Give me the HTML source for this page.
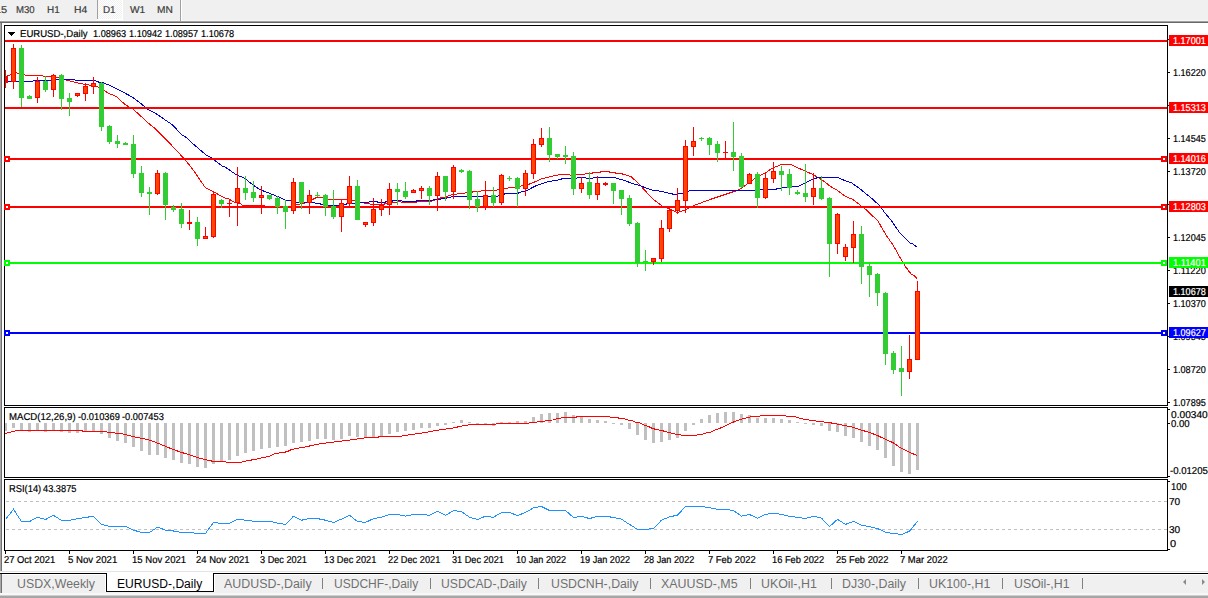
<!DOCTYPE html><html><head><meta charset="utf-8"><title>EURUSD-,Daily</title><style>
html,body{margin:0;padding:0;}
body{width:1208px;height:598px;overflow:hidden;background:#fff;position:relative;font-family:"Liberation Sans",sans-serif;}
.abs{position:absolute;}
.t{position:absolute;white-space:pre;transform-origin:0 0;}
svg{position:absolute;left:0;top:0;}
</style></head><body>
<div class="abs" style="left:0px;top:0px;width:1208px;height:20px;background:#f0f0f0"></div>
<div class="abs" style="left:0px;top:20px;width:1208px;height:1px;background:#f6f6f6"></div>
<div class="abs" style="left:0px;top:21px;width:1208px;height:1px;background:#a0a0a0"></div>
<div class="abs" style="left:0px;top:22px;width:1208px;height:1px;background:#696969"></div>
<div class="abs" style="left:98px;top:0;width:24px;height:19px;background-color:#f0f0f0;background-image:conic-gradient(#fff 25%,#f0f0f0 0 50%,#fff 0 75%,#f0f0f0 0);background-size:2px 2px"></div>
<div class="abs" style="left:97px;top:0px;width:1px;height:19px;background:#a0a0a0"></div>
<div class="abs" style="left:122px;top:0px;width:1px;height:20px;background:#fff"></div>
<div class="abs" style="left:97px;top:19px;width:26px;height:1px;background:#fff"></div>
<div class="abs" style="left:180px;top:0px;width:1px;height:21px;background:#a0a0a0"></div>
<div class="abs" style="left:181px;top:0px;width:1px;height:21px;background:#ffffff"></div>
<div class="t" style="left:0.54px;top:6.00px;font-size:10px;line-height:10px;color:#3c3c3c;text-rendering:geometricPrecision;-webkit-text-stroke:0.2px;transform:scaleX(1.1003)">5</div>
<div class="t" style="left:15.92px;top:6.00px;font-size:10px;line-height:10px;color:#3c3c3c;text-rendering:geometricPrecision;-webkit-text-stroke:0.2px;transform:scaleX(0.9586)">M30</div>
<div class="t" style="left:46.90px;top:6.00px;font-size:10px;line-height:10px;color:#3c3c3c;text-rendering:geometricPrecision;-webkit-text-stroke:0.2px;transform:scaleX(0.9926)">H1</div>
<div class="t" style="left:74.38px;top:6.00px;font-size:10px;line-height:10px;color:#3c3c3c;text-rendering:geometricPrecision;-webkit-text-stroke:0.2px;transform:scaleX(1.0358)">H4</div>
<div class="t" style="left:103.01px;top:6.00px;font-size:10px;line-height:10px;color:#3c3c3c;text-rendering:geometricPrecision;-webkit-text-stroke:0.2px;transform:scaleX(0.9840)">D1</div>
<div class="t" style="left:130.39px;top:6.00px;font-size:10px;line-height:10px;color:#3c3c3c;text-rendering:geometricPrecision;-webkit-text-stroke:0.2px;transform:scaleX(1.0143)">W1</div>
<div class="t" style="left:157.09px;top:6.00px;font-size:10px;line-height:10px;color:#3c3c3c;text-rendering:geometricPrecision;-webkit-text-stroke:0.2px;transform:scaleX(1.0172)">MN</div>
<div class="abs" style="left:0px;top:12px;width:1px;height:1px;background:#8a8a8a"></div>
<div class="abs" style="left:0px;top:23px;width:1px;height:548px;background:#a8a8a8"></div>
<div class="abs" style="left:1px;top:23px;width:1px;height:548px;background:#707070"></div>
<div class="abs" style="left:0px;top:571px;width:1208px;height:1px;background:#e3e3e3"></div>
<div class="abs" style="left:0px;top:573px;width:1208px;height:1px;background:#000"></div>
<div class="abs" style="left:0px;top:575px;width:1208px;height:18px;background:#f0f0f0"></div>
<div class="abs" style="left:0px;top:593px;width:1208px;height:2px;background:#f8f8f8"></div>
<div class="abs" style="left:0px;top:595px;width:1208px;height:1px;background:#cfcfcf"></div>
<div class="abs" style="left:0px;top:596px;width:1208px;height:2px;background:#a6a6a6"></div>
<div class="abs" style="left:0px;top:574px;width:1px;height:19px;background:#a8a8a8"></div>
<div class="abs" style="left:1px;top:574px;width:1px;height:19px;background:#707070"></div>
<div class="abs" style="left:105px;top:574px;width:110px;height:1px;background:#fff"></div>
<div class="abs" style="left:107px;top:573px;width:106px;height:18px;background:#fff"></div>
<div class="abs" style="left:105px;top:575px;width:1px;height:17px;background:#fff"></div>
<div class="abs" style="left:214px;top:575px;width:1px;height:17px;background:#fff"></div>
<div class="abs" style="left:106px;top:573px;width:1px;height:19px;background:#000"></div>
<div class="abs" style="left:213px;top:573px;width:1px;height:19px;background:#000"></div>
<div class="abs" style="left:106px;top:591px;width:108px;height:1px;background:#000"></div>
<div class="t" style="left:17.31px;top:578.04px;font-size:12px;line-height:12px;color:#707070;transform:scaleX(1.0287)">USDX,Weekly</div>
<div class="t" style="left:117.03px;top:578.04px;font-size:12px;line-height:12px;color:#000;transform:scaleX(1.0066)">EURUSD-,Daily</div>
<div class="t" style="left:224.01px;top:578.04px;font-size:12px;line-height:12px;color:#707070;transform:scaleX(1.0344)">AUDUSD-,Daily</div>
<div class="t" style="left:334.24px;top:578.04px;font-size:12px;line-height:12px;color:#707070;transform:scaleX(1.0027)">USDCHF-,Daily</div>
<div class="t" style="left:441.23px;top:578.04px;font-size:12px;line-height:12px;color:#707070;transform:scaleX(1.0139)">USDCAD-,Daily</div>
<div class="t" style="left:550.52px;top:578.04px;font-size:12px;line-height:12px;color:#707070;transform:scaleX(1.0250)">USDCNH-,Daily</div>
<div class="t" style="left:661.41px;top:578.04px;font-size:12px;line-height:12px;color:#707070;transform:scaleX(1.0348)">XAUUSD-,M5</div>
<div class="t" style="left:761.41px;top:578.04px;font-size:12px;line-height:12px;color:#707070;transform:scaleX(1.0329)">UKOil-,H1</div>
<div class="t" style="left:842.01px;top:578.04px;font-size:12px;line-height:12px;color:#707070;transform:scaleX(1.0317)">DJ30-,Daily</div>
<div class="t" style="left:929.21px;top:578.04px;font-size:12px;line-height:12px;color:#707070;transform:scaleX(1.0324)">UK100-,H1</div>
<div class="t" style="left:1014.31px;top:578.04px;font-size:12px;line-height:12px;color:#707070;transform:scaleX(1.0291)">USOil-,H1</div>
<div class="abs" style="left:322px;top:578px;width:1px;height:11px;background:#808080"></div>
<div class="abs" style="left:430px;top:578px;width:1px;height:11px;background:#808080"></div>
<div class="abs" style="left:538px;top:578px;width:1px;height:11px;background:#808080"></div>
<div class="abs" style="left:650px;top:578px;width:1px;height:11px;background:#808080"></div>
<div class="abs" style="left:750px;top:578px;width:1px;height:11px;background:#808080"></div>
<div class="abs" style="left:831px;top:578px;width:1px;height:11px;background:#808080"></div>
<div class="abs" style="left:918px;top:578px;width:1px;height:11px;background:#808080"></div>
<div class="abs" style="left:1002px;top:578px;width:1px;height:11px;background:#808080"></div>
<div class="abs" style="left:1082px;top:578px;width:1px;height:11px;background:#808080"></div>
<svg width="1208" height="598" viewBox="0 0 1208 598" shape-rendering="crispEdges">
<clipPath id="c1"><rect x="5" y="26" width="1162" height="379"/></clipPath>
<clipPath id="c2"><rect x="5" y="408" width="1162" height="69"/></clipPath>
<clipPath id="c3"><rect x="5" y="480" width="1162" height="70"/></clipPath>
<path d="M4.5 25.5H1167.5V405.5H4.5Z" fill="none" stroke="#000" stroke-width="1"/>
<path d="M4.5 407.5H1167.5V477.5H4.5Z" fill="none" stroke="#000" stroke-width="1"/>
<path d="M4.5 479.5H1167.5V550.5H4.5Z" fill="none" stroke="#000" stroke-width="1"/>
<path d="M6 501.5H1167" stroke="#c0c0c0" stroke-width="1" stroke-dasharray="3 3" fill="none"/>
<path d="M6 529.5H1167" stroke="#c0c0c0" stroke-width="1" stroke-dasharray="3 3" fill="none"/>
<path d="M4 423h3v8h-3zM12 423h3v5h-3zM20 423h3v7h-3zM28 423h3v9h-3zM36 423h3v8h-3zM44 423h3v9h-3zM52 423h3v8h-3zM60 423h3v9h-3zM68 423h3v10h-3zM76 423h3v10h-3zM84 423h3v8h-3zM92 423h3v8h-3zM100 423h3v11h-3zM108 423h3v15h-3zM116 423h3v18h-3zM124 423h3v20h-3zM132 423h3v24h-3zM140 423h3v28h-3zM148 423h3v32h-3zM156 423h3v32h-3zM164 423h3v35h-3zM172 423h3v37h-3zM180 423h3v40h-3zM188 423h3v41h-3zM196 423h3v44h-3zM204 423h3v45h-3zM212 423h3v41h-3zM220 423h3v39h-3zM228 423h3v37h-3zM236 423h3v33h-3zM244 423h3v30h-3zM252 423h3v28h-3zM260 423h3v26h-3zM268 423h3v25h-3zM276 423h3v24h-3zM284 423h3v23h-3zM292 423h3v20h-3zM300 423h3v19h-3zM308 423h3v18h-3zM316 423h3v16h-3zM324 423h3v16h-3zM332 423h3v17h-3zM340 423h3v16h-3zM348 423h3v13h-3zM356 423h3v14h-3zM364 423h3v15h-3zM372 423h3v14h-3zM380 423h3v13h-3zM388 423h3v11h-3zM396 423h3v9h-3zM404 423h3v8h-3zM412 423h3v7h-3zM420 423h3v5h-3zM428 423h3v5h-3zM436 423h3v3h-3zM444 423h3v2h-3zM476 423h3v1h-3zM484 423h3v2h-3zM492 423h3v3h-3zM612 423h3v1h-3zM620 423h3v2h-3zM628 423h3v6h-3zM636 423h3v12h-3zM644 423h3v17h-3zM652 423h3v20h-3zM660 423h3v19h-3zM668 423h3v17h-3zM676 423h3v15h-3zM684 423h3v8h-3zM692 423h3v2h-3zM804 423h3v1h-3zM812 423h3v2h-3zM820 423h3v3h-3zM828 423h3v8h-3zM836 423h3v9h-3zM844 423h3v13h-3zM852 423h3v15h-3zM860 423h3v19h-3zM868 423h3v23h-3zM876 423h3v27h-3zM884 423h3v35h-3zM892 423h3v43h-3zM900 423h3v49h-3zM908 423h3v51h-3zM916 423h3v47h-3zM452 422h3v1h-3zM460 420h3v3h-3zM468 422h3v1h-3zM500 422h3v1h-3zM508 422h3v1h-3zM516 421h3v2h-3zM524 421h3v2h-3zM532 417h3v6h-3zM540 414h3v9h-3zM548 413h3v10h-3zM556 413h3v10h-3zM564 412h3v11h-3zM572 415h3v8h-3zM580 416h3v7h-3zM588 419h3v4h-3zM596 420h3v3h-3zM604 421h3v2h-3zM700 419h3v4h-3zM708 415h3v8h-3zM716 413h3v10h-3zM724 412h3v11h-3zM732 412h3v11h-3zM740 414h3v9h-3zM748 415h3v8h-3zM756 418h3v5h-3zM764 418h3v5h-3zM772 418h3v5h-3zM780 419h3v4h-3zM788 420h3v3h-3zM796 422h3v1h-3z" fill="#c0c0c0" clip-path="url(#c2)"/>
<polyline clip-path="url(#c2)" points="5.3,433.4 11.7,431.9 17.6,430.2 82.0,430.2 83.0,431.3 105.0,431.3 108.0,432.5 113.5,432.5 116.0,433.4 122.0,433.4 124.0,434.8 129.0,435.2 132.0,436.4 136.0,437.2 141.7,438.4 149.9,440.1 165.1,446.2 173.3,449.5 181.5,452.4 189.7,454.8 197.9,457.7 204.9,459.4 213.1,461.4 223.7,461.4 227.2,462.4 240.0,462.4 248.3,460.6 256.5,459.1 263.5,457.5 270.5,455.9 275.2,453.6 286.9,451.8 291.6,449.5 306.8,446.6 320.9,443.6 330.3,442.5 344.3,440.7 353.7,439.5 361.9,438.4 368.9,437.2 384.1,436.9 386.5,436.3 400.5,436.3 408.7,434.9 416.9,433.7 425.1,432.5 434.5,430.8 441.5,429.6 454.4,427.8 460.3,426.3 464.9,425.5 473.1,424.3 495.4,424.3 497.7,423.3 528.2,423.3 530.5,422.6 536.4,422.3 538.7,421.4 544.6,421.2 546.9,420.2 552.8,420.0 555.1,419.1 559.8,418.5 563.3,417.3 576.2,417.3 577.4,416.4 609.0,416.4 610.2,417.3 617.2,417.3 619.5,418.5 624.2,418.8 627.7,420.0 632.4,420.8 635.9,422.3 640.6,423.1 644.1,425.1 648.8,426.7 652.3,428.4 655.8,429.4 661.7,430.5 668.7,432.5 673.4,433.7 681.6,435.2 696.8,435.2 699.2,434.3 702.7,434.0 706.2,432.9 710.9,432.2 715.6,429.8 722.6,427.2 732.0,422.6 739.0,420.0 747.2,417.6 753.0,416.4 760.1,416.1 762.4,415.3 784.7,415.3 787.0,416.4 793.5,416.4 802.9,419.1 809.9,420.2 818.1,421.2 826.3,422.3 832.2,423.1 842.7,425.1 850.9,426.7 860.3,429.8 869.6,432.5 877.8,435.7 886.0,439.5 893.0,442.7 901.2,448.3 909.4,452.1 917.0,455.6" fill="none" stroke="#ff0000" stroke-width="1"/>
<polyline clip-path="url(#c3)" points="5.5,519.5 13.5,509.3 21.5,521.5 29.5,521.5 37.5,517.3 45.5,519.5 53.5,515.3 61.5,520.4 69.5,520.4 77.5,518.6 85.5,517.5 93.5,516.2 101.5,524.4 109.5,526.4 117.5,526.4 125.5,526.4 133.5,530.1 141.5,532.5 149.5,532.5 157.5,527.2 165.5,530.1 173.5,531.0 181.5,532.4 189.5,532.4 197.5,533.4 205.5,533.4 213.5,522.4 221.5,523.5 229.5,523.2 237.5,519.2 245.5,520.2 253.5,521.2 261.5,521.2 269.5,521.2 277.5,523.1 285.5,524.4 293.5,516.2 301.5,520.2 309.5,518.6 317.5,518.6 325.5,520.2 333.5,522.5 341.5,519.1 349.5,515.3 357.5,521.5 365.5,522.4 373.5,518.6 381.5,517.3 389.5,514.5 397.5,514.5 405.5,516.2 413.5,514.5 421.5,514.5 429.5,515.3 437.5,511.3 445.5,515.3 453.5,510.6 461.5,511.6 469.5,517.3 477.5,519.5 485.5,516.2 493.5,517.3 501.5,512.5 509.5,512.5 517.5,515.5 525.5,512.5 533.5,507.8 541.5,506.5 549.5,510.5 557.5,510.5 565.5,510.5 573.5,517.5 581.5,516.2 589.5,518.6 597.5,516.2 605.5,516.2 613.5,517.5 621.5,519.2 629.5,524.4 637.5,529.4 645.5,529.4 653.5,528.4 661.5,520.2 669.5,516.9 677.5,515.1 685.5,506.5 693.5,506.5 701.5,506.5 709.5,507.6 717.5,509.3 725.5,509.3 733.5,510.6 741.5,516.2 749.5,514.5 757.5,518.3 765.5,514.4 773.5,513.3 781.5,514.4 789.5,516.3 797.5,517.4 805.5,518.4 813.5,516.3 821.5,518.1 829.5,526.6 837.5,519.3 845.5,524.4 853.5,521.4 861.5,525.3 869.5,526.6 877.5,528.5 885.5,532.3 893.5,533.5 901.5,534.5 909.5,531.2 917.5,521.4" fill="none" stroke="#1e90ff" stroke-width="1"/>
<polyline clip-path="url(#c1)" points="5.0,77.0 11.0,74.6 16.5,72.6 18.5,73.6 24.0,74.6 26.0,75.3 41.0,75.3 43.0,76.1 59.0,77.3 65.0,79.6 70.0,81.1 74.0,82.1 80.0,83.6 90.0,85.1 96.0,86.3 100.0,87.6 104.0,90.0 108.0,93.1 116.0,96.3 120.0,100.1 126.0,105.1 133.0,109.1 138.0,113.6 144.0,119.1 150.0,124.6 155.1,128.5 161.2,134.5 177.2,151.1 185.2,160.1 190.2,166.1 195.3,173.0 205.3,187.6 210.3,190.1 214.3,192.1 220.3,195.6 225.0,198.1 229.0,199.1 235.0,202.6 241.0,204.1 242.0,205.1 264.0,205.1 266.0,206.5 291.0,206.5 295.2,205.1 304.2,203.1 307.2,202.1 312.3,199.6 316.3,197.6 321.3,197.3 323.8,198.6 330.3,199.6 347.0,199.4 351.5,200.1 355.0,200.1 360.0,202.1 364.0,203.1 369.0,203.3 371.0,204.6 384.0,204.6 385.0,203.6 392.0,203.1 394.0,202.1 401.0,201.9 403.0,202.6 416.0,202.6 418.0,201.6 430.5,201.6 433.0,200.6 435.0,200.1 439.0,198.6 440.0,198.1 443.0,197.6 446.0,197.3 447.6,196.3 450.0,195.3 452.0,194.6 456.6,194.3 457.6,193.3 464.6,193.3 465.6,192.3 472.2,192.3 473.2,191.3 480.7,191.3 481.2,190.3 497.0,190.1 499.0,189.1 504.0,189.1 505.0,188.4 515.0,187.1 523.0,185.6 528.0,184.6 532.0,183.1 541.0,179.1 549.0,177.1 555.0,175.6 561.0,174.5 569.0,174.3 571.0,175.6 576.0,175.1 578.0,174.4 584.0,174.4 586.0,173.3 592.0,173.3 594.0,172.3 600.0,172.3 602.0,171.3 609.0,171.3 610.0,172.3 615.0,172.3 616.0,173.3 620.0,173.3 624.0,174.4 628.0,175.6 631.0,176.6 636.0,181.1 641.0,186.1 650.0,196.1 654.0,199.8 662.0,206.0 669.0,208.6 677.0,212.5 685.0,210.2 695.0,205.1 710.0,199.5 735.2,191.1 740.2,189.1 747.2,184.1 754.2,179.1 761.3,175.0 765.3,173.0 770.3,169.5 775.3,167.0 780.3,165.0 786.3,164.0 790.5,164.5 795.0,166.5 805.0,171.0 813.0,174.6 820.0,178.6 825.0,182.1 830.0,186.1 837.0,190.1 845.0,196.1 849.0,198.0 853.0,199.5 860.0,205.0 867.0,210.5 878.0,221.1 882.0,228.1 886.0,235.0 893.0,245.0 902.0,261.0 905.0,266.0 911.0,274.0 914.0,275.6 917.0,278.6" fill="none" stroke="#ff0000" stroke-width="1"/>
<polyline clip-path="url(#c1)" points="5.0,82.6 9.0,81.1 33.0,81.1 34.0,80.1 56.0,80.1 58.0,79.1 74.0,79.1 75.0,80.1 95.0,80.1 96.0,81.1 100.0,82.5 103.0,82.8 110.0,85.5 117.0,89.0 125.0,93.1 133.0,97.6 138.0,101.3 144.0,106.1 148.0,109.6 156.0,113.6 164.0,119.1 172.0,124.6 182.2,135.0 187.2,138.0 192.2,143.1 200.3,150.1 206.3,155.1 210.3,157.1 214.3,160.1 222.3,166.1 225.0,167.0 236.0,174.5 245.0,178.5 253.0,185.0 260.0,189.6 265.0,191.6 273.0,194.6 279.0,197.1 285.0,200.1 290.0,200.6 294.0,202.6 319.3,203.1 321.3,204.6 325.3,205.1 335.0,205.6 346.0,204.6 347.0,203.6 359.0,203.6 361.0,202.1 369.0,202.1 370.0,201.3 377.0,201.3 378.0,202.6 385.0,202.6 386.0,201.3 392.0,201.3 394.0,200.1 401.0,200.1 403.0,201.6 416.0,201.6 417.0,200.4 432.5,200.6 433.5,199.3 440.5,199.3 441.5,198.3 446.6,198.3 447.6,197.3 450.6,197.3 452.0,196.3 498.0,196.3 499.0,195.1 504.0,194.6 505.0,193.3 518.0,193.3 519.7,192.3 527.2,190.6 530.3,188.6 535.3,186.1 545.3,182.6 549.3,181.3 555.3,180.6 560.0,179.6 564.0,178.1 570.0,178.3 577.0,178.1 578.0,177.1 585.0,177.3 587.0,178.6 592.0,178.6 594.0,177.3 615.0,177.3 617.0,178.6 620.0,179.1 625.0,180.6 630.0,182.6 636.0,184.6 640.0,185.6 645.0,187.6 652.0,190.1 657.0,190.6 660.0,191.3 664.0,191.9 668.0,193.1 674.0,194.3 678.0,194.1 680.0,193.5 685.0,192.6 691.0,190.3 755.0,190.1 762.0,189.1 776.0,189.1 781.0,188.1 785.0,187.8 791.0,187.1 798.0,186.3 805.0,183.1 812.0,179.6 815.0,178.3 820.0,177.3 838.0,177.3 841.0,179.1 852.0,183.1 859.0,188.1 867.0,194.6 873.0,199.5 880.0,206.0 885.0,213.1 891.0,220.1 895.0,226.1 900.0,233.1 905.0,238.1 910.0,243.1 913.0,244.1 916.5,246.6" fill="none" stroke="#0000cd" stroke-width="1"/>
<rect x="5" y="40" width="1162" height="2" fill="#ff0000"/>
<rect x="5" y="107" width="1162" height="2" fill="#ff0000"/>
<rect x="5" y="158" width="1162" height="2" fill="#ff0000"/>
<rect x="5" y="206" width="1162" height="2" fill="#ff0000"/>
<rect x="5" y="262" width="1162" height="2" fill="#00ff00"/>
<rect x="5" y="332" width="1162" height="2" fill="#0000ff"/>
<g clip-path="url(#c1)"><path d="M19 48h5v50h-5zM21 45h1v62h-1zM27 96h5v3h-5zM29 95h1v4h-1zM43 81h5v9h-5zM45 76h1v16h-1zM59 75h5v24h-5zM61 74h1v36h-1zM67 98h5v4h-5zM69 93h1v23h-1zM99 83h5v44h-5zM101 82h1v49h-1zM107 126h5v16h-5zM109 125h1v19h-1zM115 141h5v3h-5zM117 135h1v13h-1zM123 143h5v2h-5zM125 142h1v3h-1zM131 144h5v30h-5zM133 135h1v43h-1zM139 173h5v20h-5zM141 166h1v31h-1zM147 192h5v2h-5zM149 187h1v28h-1zM163 173h5v32h-5zM165 172h1v48h-1zM171 207h5v3h-5zM173 205h1v7h-1zM179 209h5v15h-5zM181 203h1v25h-1zM195 222h5v17h-5zM197 217h1v29h-1zM219 200h5v4h-5zM221 199h1v9h-1zM243 188h5v5h-5zM245 176h1v24h-1zM251 192h5v6h-5zM253 181h1v21h-1zM267 195h5v4h-5zM269 195h1v5h-1zM275 198h5v9h-5zM277 196h1v18h-1zM283 206h5v6h-5zM285 200h1v29h-1zM299 182h5v21h-5zM301 182h1v27h-1zM315 195h5v1h-5zM317 192h1v5h-1zM323 195h5v12h-5zM325 194h1v22h-1zM331 206h5v11h-5zM333 190h1v29h-1zM355 186h5v34h-5zM357 180h1v40h-1zM395 189h5v3h-5zM397 183h1v22h-1zM403 191h5v6h-5zM405 182h1v17h-1zM427 188h5v8h-5zM429 186h1v19h-1zM443 176h5v16h-5zM445 176h1v25h-1zM459 170h5v2h-5zM461 169h1v4h-1zM467 171h5v29h-5zM469 170h1v39h-1zM475 199h5v8h-5zM477 191h1v21h-1zM491 195h5v8h-5zM493 187h1v20h-1zM507 178h5v1h-5zM509 176h1v5h-1zM515 178h5v11h-5zM517 177h1v30h-1zM547 138h5v17h-5zM549 127h1v35h-1zM555 154h5v3h-5zM557 154h1v5h-1zM563 155h5v2h-5zM565 146h1v18h-1zM571 156h5v33h-5zM573 152h1v43h-1zM587 182h5v13h-5zM589 172h1v27h-1zM611 183h5v8h-5zM613 183h1v21h-1zM619 190h5v9h-5zM621 190h1v25h-1zM627 198h5v26h-5zM629 195h1v31h-1zM635 223h5v40h-5zM637 222h1v45h-1zM643 261h5v1h-5zM645 250h1v21h-1zM699 138h5v1h-5zM701 137h1v4h-1zM707 138h5v7h-5zM709 137h1v18h-1zM715 144h5v9h-5zM717 141h1v21h-1zM731 152h5v5h-5zM733 122h1v49h-1zM739 156h5v31h-5zM741 153h1v35h-1zM755 174h5v24h-5zM757 172h1v36h-1zM779 171h5v4h-5zM781 166h1v25h-1zM787 174h5v14h-5zM789 169h1v26h-1zM795 192h5v2h-5zM797 190h1v5h-1zM803 193h5v4h-5zM805 164h1v38h-1zM819 188h5v11h-5zM821 176h1v24h-1zM827 198h5v46h-5zM829 197h1v80h-1zM859 234h5v33h-5zM861 226h1v58h-1zM867 266h5v9h-5zM869 262h1v35h-1zM875 274h5v19h-5zM877 273h1v33h-1zM883 293h5v61h-5zM885 292h1v73h-1zM891 353h5v17h-5zM893 351h1v23h-1zM899 368h5v4h-5zM901 346h1v50h-1z" fill="#32cd32"/><path d="M3 76h5v7h-5zM5 70h1v18h-1zM11 48h5v34h-5zM13 44h1v45h-1zM35 81h5v17h-5zM37 77h1v26h-1zM51 75h5v15h-5zM53 74h1v23h-1zM75 93h5v3h-5zM77 93h1v4h-1zM83 86h5v8h-5zM85 83h1v18h-1zM91 83h5v4h-5zM93 77h1v17h-1zM155 173h5v21h-5zM157 170h1v25h-1zM187 222h5v2h-5zM189 210h1v20h-1zM203 236h5v3h-5zM205 227h1v12h-1zM211 194h5v43h-5zM213 191h1v47h-1zM227 203h5v1h-5zM229 199h1v18h-1zM235 188h5v15h-5zM237 167h1v59h-1zM259 195h5v3h-5zM261 186h1v28h-1zM291 182h5v29h-5zM293 178h1v36h-1zM307 195h5v8h-5zM309 190h1v24h-1zM339 203h5v14h-5zM341 199h1v33h-1zM347 186h5v18h-5zM349 176h1v30h-1zM363 222h5v3h-5zM365 222h1v5h-1zM371 209h5v14h-5zM373 198h1v28h-1zM379 205h5v5h-5zM381 199h1v17h-1zM387 189h5v16h-5zM389 183h1v32h-1zM411 190h5v3h-5zM413 189h1v4h-1zM419 188h5v3h-5zM421 186h1v13h-1zM435 176h5v20h-5zM437 172h1v39h-1zM451 167h5v25h-5zM453 165h1v34h-1zM483 195h5v12h-5zM485 181h1v29h-1zM499 175h5v28h-5zM501 174h1v31h-1zM523 173h5v16h-5zM525 170h1v26h-1zM531 144h5v30h-5zM533 139h1v40h-1zM539 138h5v7h-5zM541 128h1v19h-1zM579 183h5v6h-5zM581 177h1v16h-1zM595 183h5v12h-5zM597 176h1v24h-1zM603 183h5v2h-5zM605 182h1v4h-1zM651 258h5v4h-5zM653 258h1v7h-1zM659 228h5v31h-5zM661 220h1v42h-1zM667 210h5v19h-5zM669 208h1v24h-1zM675 200h5v11h-5zM677 188h1v26h-1zM683 146h5v55h-5zM685 140h1v73h-1zM691 141h5v6h-5zM693 127h1v29h-1zM723 152h5v1h-5zM725 141h1v17h-1zM747 174h5v10h-5zM749 173h1v11h-1zM763 178h5v20h-5zM765 172h1v27h-1zM771 171h5v8h-5zM773 162h1v21h-1zM811 188h5v9h-5zM813 173h1v32h-1zM835 214h5v30h-5zM837 213h1v41h-1zM843 247h5v10h-5zM845 244h1v17h-1zM851 234h5v14h-5zM853 221h1v42h-1zM907 359h5v13h-5zM909 335h1v44h-1zM915 291h5v69h-5zM917 281h1v79h-1z" fill="#ff0000"/><path d="M12 49h3v32h-3zM36 82h3v15h-3zM52 76h3v13h-3zM76 94h3v1h-3zM84 87h3v6h-3zM92 84h3v2h-3zM156 174h3v19h-3zM204 237h3v1h-3zM212 195h3v41h-3zM236 189h3v13h-3zM260 196h3v1h-3zM292 183h3v27h-3zM308 196h3v6h-3zM340 204h3v12h-3zM348 187h3v16h-3zM364 223h3v1h-3zM372 210h3v12h-3zM380 206h3v3h-3zM388 190h3v14h-3zM412 191h3v1h-3zM420 189h3v1h-3zM436 177h3v18h-3zM452 168h3v23h-3zM484 196h3v10h-3zM500 176h3v26h-3zM524 174h3v14h-3zM532 145h3v28h-3zM540 139h3v5h-3zM580 184h3v4h-3zM596 184h3v10h-3zM652 259h3v2h-3zM660 229h3v29h-3zM668 211h3v17h-3zM676 201h3v9h-3zM684 147h3v53h-3zM692 142h3v4h-3zM748 175h3v8h-3zM764 179h3v18h-3zM772 172h3v6h-3zM812 189h3v7h-3zM836 215h3v28h-3zM844 248h3v8h-3zM852 235h3v12h-3zM908 360h3v11h-3zM916 292h3v67h-3z" fill="#ff4500"/></g>
<rect x="4" y="156" width="6" height="6" fill="#ff0000"/><rect x="6" y="158" width="2" height="2" fill="#fff"/>
<rect x="1161" y="156" width="6" height="6" fill="#ff0000"/><rect x="1163" y="158" width="2" height="2" fill="#fff"/>
<rect x="4" y="204" width="6" height="6" fill="#ff0000"/><rect x="6" y="206" width="2" height="2" fill="#fff"/>
<rect x="1161" y="204" width="6" height="6" fill="#ff0000"/><rect x="1163" y="206" width="2" height="2" fill="#fff"/>
<rect x="4" y="260" width="6" height="6" fill="#00ff00"/><rect x="6" y="262" width="2" height="2" fill="#fff"/>
<rect x="1161" y="260" width="6" height="6" fill="#00ff00"/><rect x="1163" y="262" width="2" height="2" fill="#fff"/>
<rect x="4" y="330" width="6" height="6" fill="#0000ff"/><rect x="6" y="332" width="2" height="2" fill="#fff"/>
<rect x="1161" y="330" width="6" height="6" fill="#0000ff"/><rect x="1163" y="332" width="2" height="2" fill="#fff"/>
<path d="M1168 39h2v1h-2zM1168 72h2v1h-2zM1168 105h2v1h-2zM1168 138h2v1h-2zM1168 171h2v1h-2zM1168 204h2v1h-2zM1168 237h2v1h-2zM1168 270h2v1h-2zM1168 303h2v1h-2zM1168 336h2v1h-2zM1168 369h2v1h-2zM1168 402h2v1h-2zM1168 409h2v1h-2zM1168 423h2v1h-2zM1168 476h2v1h-2zM1168 481h2v1h-2zM1168 549h2v1h-2z" fill="#000"/>
<path d="M5 551h1v3h-1zM69 551h1v3h-1zM133 551h1v3h-1zM197 551h1v3h-1zM261 551h1v3h-1zM325 551h1v3h-1zM389 551h1v3h-1zM453 551h1v3h-1zM517 551h1v3h-1zM581 551h1v3h-1zM645 551h1v3h-1zM709 551h1v3h-1zM773 551h1v3h-1zM837 551h1v3h-1zM901 551h1v3h-1z" fill="#000"/>
<path d="M8 32h7v1h-1v1h-1v1h-1v1h-1v-1h-1v-1h-1v-1h-1z" fill="#000"/>
<path d="M1186 579v6l-3-3z" fill="#8a8a8a" shape-rendering="auto"/><path d="M1202 579v6l3-3z" fill="#8a8a8a" shape-rendering="auto"/>
</svg>
<div class="t" style="left:19.53px;top:30.00px;font-size:10px;line-height:10px;color:#000;text-rendering:geometricPrecision;-webkit-text-stroke:0.2px;transform:scaleX(0.9572)">EURUSD-,Daily</div>
<div class="t" style="left:93.05px;top:30.00px;font-size:10px;line-height:10px;color:#000;text-rendering:geometricPrecision;-webkit-text-stroke:0.2px;transform:scaleX(0.9155)">1.08963</div>
<div class="t" style="left:129.05px;top:30.00px;font-size:10px;line-height:10px;color:#000;text-rendering:geometricPrecision;-webkit-text-stroke:0.2px;transform:scaleX(0.9155)">1.10942</div>
<div class="t" style="left:165.05px;top:30.00px;font-size:10px;line-height:10px;color:#000;text-rendering:geometricPrecision;-webkit-text-stroke:0.2px;transform:scaleX(0.9155)">1.08957</div>
<div class="t" style="left:201.25px;top:30.00px;font-size:10px;line-height:10px;color:#000;text-rendering:geometricPrecision;-webkit-text-stroke:0.2px;transform:scaleX(0.9155)">1.10678</div>
<div class="t" style="left:8.82px;top:413.00px;font-size:10px;line-height:10px;color:#000;text-rendering:geometricPrecision;-webkit-text-stroke:0.2px;transform:scaleX(0.9593)">MACD(12,26,9)</div>
<div class="t" style="left:77.64px;top:413.00px;font-size:10px;line-height:10px;color:#000;text-rendering:geometricPrecision;-webkit-text-stroke:0.2px;transform:scaleX(0.9282)">-0.010369</div>
<div class="t" style="left:121.84px;top:413.00px;font-size:10px;line-height:10px;color:#000;text-rendering:geometricPrecision;-webkit-text-stroke:0.2px;transform:scaleX(0.9282)">-0.007453</div>
<div class="t" style="left:8.84px;top:485.00px;font-size:10px;line-height:10px;color:#000;text-rendering:geometricPrecision;-webkit-text-stroke:0.2px;transform:scaleX(0.9351)">RSI(14)</div>
<div class="t" style="left:43.45px;top:485.00px;font-size:10px;line-height:10px;color:#000;text-rendering:geometricPrecision;-webkit-text-stroke:0.2px;transform:scaleX(0.9241)">43.3875</div>
<div class="t" style="left:1173.26px;top:69.00px;font-size:10px;line-height:10px;color:#000;text-rendering:geometricPrecision;-webkit-text-stroke:0.2px;transform:scaleX(0.9069)">1.16220</div>
<div class="t" style="left:1173.26px;top:135.00px;font-size:10px;line-height:10px;color:#000;text-rendering:geometricPrecision;-webkit-text-stroke:0.2px;transform:scaleX(0.9069)">1.14545</div>
<div class="t" style="left:1173.26px;top:168.00px;font-size:10px;line-height:10px;color:#000;text-rendering:geometricPrecision;-webkit-text-stroke:0.2px;transform:scaleX(0.9069)">1.13720</div>
<div class="t" style="left:1173.26px;top:234.00px;font-size:10px;line-height:10px;color:#000;text-rendering:geometricPrecision;-webkit-text-stroke:0.2px;transform:scaleX(0.9069)">1.12045</div>
<div class="t" style="left:1173.24px;top:267.00px;font-size:10px;line-height:10px;color:#000;text-rendering:geometricPrecision;-webkit-text-stroke:0.2px;transform:scaleX(0.9266)">1.11220</div>
<div class="t" style="left:1173.26px;top:300.00px;font-size:10px;line-height:10px;color:#000;text-rendering:geometricPrecision;-webkit-text-stroke:0.2px;transform:scaleX(0.9069)">1.10370</div>
<div class="t" style="left:1173.26px;top:333.00px;font-size:10px;line-height:10px;color:#000;text-rendering:geometricPrecision;-webkit-text-stroke:0.2px;transform:scaleX(0.9069)">1.09545</div>
<div class="t" style="left:1173.26px;top:366.00px;font-size:10px;line-height:10px;color:#000;text-rendering:geometricPrecision;-webkit-text-stroke:0.2px;transform:scaleX(0.9069)">1.08720</div>
<div class="t" style="left:1173.26px;top:399.00px;font-size:10px;line-height:10px;color:#000;text-rendering:geometricPrecision;-webkit-text-stroke:0.2px;transform:scaleX(0.9069)">1.07895</div>
<div class="t" style="left:1170.69px;top:411.00px;font-size:10px;line-height:10px;color:#000;text-rendering:geometricPrecision;-webkit-text-stroke:0.2px;transform:scaleX(1.0169)">0.003408</div>
<div class="t" style="left:1170.73px;top:420.00px;font-size:10px;line-height:10px;color:#000;text-rendering:geometricPrecision;-webkit-text-stroke:0.2px;transform:scaleX(0.9580)">0.00</div>
<div class="t" style="left:1170.43px;top:467.00px;font-size:10px;line-height:10px;color:#000;text-rendering:geometricPrecision;-webkit-text-stroke:0.2px;transform:scaleX(0.9579)">-0.012058</div>
<div class="t" style="left:1170.94px;top:483.00px;font-size:10px;line-height:10px;color:#000;text-rendering:geometricPrecision;-webkit-text-stroke:0.2px;transform:scaleX(0.9362)">100</div>
<div class="t" style="left:1169.40px;top:498.00px;font-size:10px;line-height:10px;color:#000;text-rendering:geometricPrecision;-webkit-text-stroke:0.2px;transform:scaleX(1.0076)">70</div>
<div class="t" style="left:1169.40px;top:526.00px;font-size:10px;line-height:10px;color:#000;text-rendering:geometricPrecision;-webkit-text-stroke:0.2px;transform:scaleX(1.0076)">30</div>
<div class="t" style="left:1170.34px;top:540.00px;font-size:10px;line-height:10px;color:#000;text-rendering:geometricPrecision;-webkit-text-stroke:0.2px;transform:scaleX(1.1003)">0</div>
<div class="abs" style="left:1169px;top:35px;width:39px;height:11px;background:#ff0000"></div>
<div class="t" style="left:1173.26px;top:37.00px;font-size:10px;line-height:10px;color:#fff;text-rendering:geometricPrecision;-webkit-text-stroke:0.2px;transform:scaleX(0.9069)">1.17001</div>
<div class="abs" style="left:1169px;top:102px;width:39px;height:11px;background:#ff0000"></div>
<div class="t" style="left:1173.26px;top:104.00px;font-size:10px;line-height:10px;color:#fff;text-rendering:geometricPrecision;-webkit-text-stroke:0.2px;transform:scaleX(0.9069)">1.15313</div>
<div class="abs" style="left:1169px;top:153px;width:39px;height:11px;background:#ff0000"></div>
<div class="t" style="left:1173.26px;top:155.00px;font-size:10px;line-height:10px;color:#fff;text-rendering:geometricPrecision;-webkit-text-stroke:0.2px;transform:scaleX(0.9069)">1.14016</div>
<div class="abs" style="left:1169px;top:201px;width:39px;height:11px;background:#ff0000"></div>
<div class="t" style="left:1173.26px;top:203.00px;font-size:10px;line-height:10px;color:#fff;text-rendering:geometricPrecision;-webkit-text-stroke:0.2px;transform:scaleX(0.9069)">1.12803</div>
<div class="abs" style="left:1169px;top:257px;width:39px;height:11px;background:#00ff00"></div>
<div class="t" style="left:1173.24px;top:259.00px;font-size:10px;line-height:10px;color:#fff;text-rendering:geometricPrecision;-webkit-text-stroke:0.2px;transform:scaleX(0.9266)">1.11401</div>
<div class="abs" style="left:1169px;top:286px;width:39px;height:11px;background:#000"></div>
<div class="t" style="left:1173.26px;top:288.00px;font-size:10px;line-height:10px;color:#fff;text-rendering:geometricPrecision;-webkit-text-stroke:0.2px;transform:scaleX(0.9069)">1.10678</div>
<div class="abs" style="left:1169px;top:327px;width:39px;height:11px;background:#0000ff"></div>
<div class="t" style="left:1173.26px;top:329.00px;font-size:10px;line-height:10px;color:#fff;text-rendering:geometricPrecision;-webkit-text-stroke:0.2px;transform:scaleX(0.9069)">1.09627</div>
<div class="t" style="left:4.44px;top:556.00px;font-size:10px;line-height:10px;color:#000;text-rendering:geometricPrecision;-webkit-text-stroke:0.2px;transform:scaleX(0.9382)">27 Oct 2021</div>
<div class="t" style="left:68.42px;top:556.00px;font-size:10px;line-height:10px;color:#000;text-rendering:geometricPrecision;-webkit-text-stroke:0.2px;transform:scaleX(0.9628)">5 Nov 2021</div>
<div class="t" style="left:132.43px;top:556.00px;font-size:10px;line-height:10px;color:#000;text-rendering:geometricPrecision;-webkit-text-stroke:0.2px;transform:scaleX(0.9528)">15 Nov 2021</div>
<div class="t" style="left:196.43px;top:556.00px;font-size:10px;line-height:10px;color:#000;text-rendering:geometricPrecision;-webkit-text-stroke:0.2px;transform:scaleX(0.9456)">24 Nov 2021</div>
<div class="t" style="left:260.45px;top:556.00px;font-size:10px;line-height:10px;color:#000;text-rendering:geometricPrecision;-webkit-text-stroke:0.2px;transform:scaleX(0.9168)">3 Dec 2021</div>
<div class="t" style="left:324.45px;top:556.00px;font-size:10px;line-height:10px;color:#000;text-rendering:geometricPrecision;-webkit-text-stroke:0.2px;transform:scaleX(0.9240)">13 Dec 2021</div>
<div class="t" style="left:388.45px;top:556.00px;font-size:10px;line-height:10px;color:#000;text-rendering:geometricPrecision;-webkit-text-stroke:0.2px;transform:scaleX(0.9222)">22 Dec 2021</div>
<div class="t" style="left:452.45px;top:556.00px;font-size:10px;line-height:10px;color:#000;text-rendering:geometricPrecision;-webkit-text-stroke:0.2px;transform:scaleX(0.9150)">31 Dec 2021</div>
<div class="t" style="left:516.45px;top:556.00px;font-size:10px;line-height:10px;color:#000;text-rendering:geometricPrecision;-webkit-text-stroke:0.2px;transform:scaleX(0.9116)">10 Jan 2022</div>
<div class="t" style="left:580.45px;top:556.00px;font-size:10px;line-height:10px;color:#000;text-rendering:geometricPrecision;-webkit-text-stroke:0.2px;transform:scaleX(0.9098)">19 Jan 2022</div>
<div class="t" style="left:644.45px;top:556.00px;font-size:10px;line-height:10px;color:#000;text-rendering:geometricPrecision;-webkit-text-stroke:0.2px;transform:scaleX(0.9135)">28 Jan 2022</div>
<div class="t" style="left:708.44px;top:556.00px;font-size:10px;line-height:10px;color:#000;text-rendering:geometricPrecision;-webkit-text-stroke:0.2px;transform:scaleX(0.9412)">7 Feb 2022</div>
<div class="t" style="left:772.44px;top:556.00px;font-size:10px;line-height:10px;color:#000;text-rendering:geometricPrecision;-webkit-text-stroke:0.2px;transform:scaleX(0.9296)">16 Feb 2022</div>
<div class="t" style="left:836.44px;top:556.00px;font-size:10px;line-height:10px;color:#000;text-rendering:geometricPrecision;-webkit-text-stroke:0.2px;transform:scaleX(0.9333)">25 Feb 2022</div>
<div class="t" style="left:900.44px;top:556.00px;font-size:10px;line-height:10px;color:#000;text-rendering:geometricPrecision;-webkit-text-stroke:0.2px;transform:scaleX(0.9414)">7 Mar 2022</div>
</body></html>
